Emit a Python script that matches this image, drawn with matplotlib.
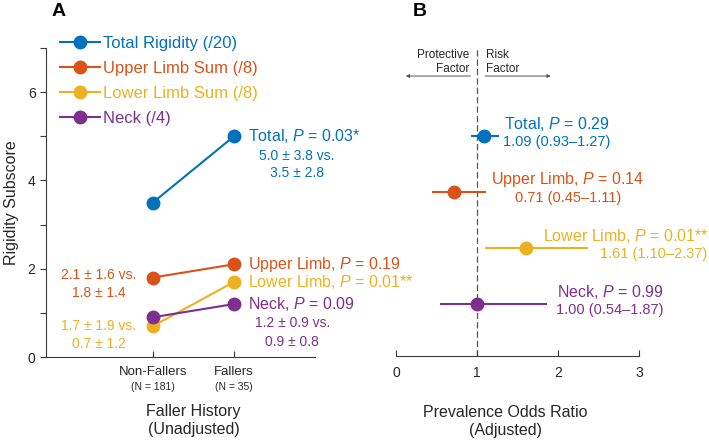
import numpy as np
import matplotlib
matplotlib.use('Agg')
import matplotlib.pyplot as plt

plt.rcParams['font.family'] = ['Liberation Sans', 'DejaVu Sans']
plt.rcParams['mathtext.fontset'] = 'custom'
plt.rcParams['mathtext.rm'] = 'Liberation Sans'
plt.rcParams['mathtext.it'] = 'Liberation Sans:italic'

# panel A data
groups = ['Non-Fallers', 'Fallers']
group_n = ['(N = 181)', '(N = 35)']
series = ['Total Rigidity (/20)', 'Upper Limb Sum (/8)', 'Lower Limb Sum (/8)', 'Neck (/4)']
short = ['Total', 'Upper Limb', 'Lower Limb', 'Neck']
non_fallers = [3.5, 1.8, 0.7, 0.9]
fallers = [5.0, 2.1, 1.7, 1.2]
p_unadj = ['0.03*', '0.19', '0.01**', '0.09']
stats_txt = [('5.0 ± 3.8 vs.', '3.5 ± 2.8'),
             ('2.1 ± 1.6 vs.', '1.8 ± 1.4'),
             ('1.7 ± 1.9 vs.', '0.7 ± 1.2'),
             ('1.2 ± 0.9 vs.', '0.9 ± 0.8')]

# panel B data
odds = [1.09, 0.71, 1.61, 1.00]
ci_lo = [0.93, 0.45, 1.10, 0.54]
ci_hi = [1.27, 1.11, 2.37, 1.87]
p_adj = ['0.29', '0.14', '0.01**', '0.99']

colors = ['#0072BD', '#D95319', '#EDB120', '#7E2F8E']
axcol = '#3a3a3a'

fig = plt.figure(figsize=(7.09, 4.40), dpi=100)
W, H = 709, 440


def px_axes(x0, y0, x1, y1):
    return fig.add_axes([x0 / W, 1 - y1 / H, (x1 - x0) / W, (y1 - y0) / H])


# ---------- panel B (drawn first so panel A text sits on top) ----------
bx = px_axes(396, 48, 639, 356)
bx.patch.set_visible(False)
ypos = [4, 3, 2, 1]
bx.axvline(1, color='#555555', lw=0.9, dashes=(5, 2.5), zorder=0)
for i in range(4):
    bx.errorbar(odds[i], ypos[i], xerr=[[odds[i] - ci_lo[i]], [ci_hi[i] - odds[i]]],
                fmt='o', color=colors[i], ms=9, elinewidth=1.5, capsize=0)

bx.set_xlim(0, 3)
bx.set_ylim(0.07, 5.57)
bx.set_xticks([0, 1, 2, 3])
bx.set_yticks([])
bx.tick_params(axis='x', direction='in', length=4, colors=axcol, labelsize=10,
               labelcolor='#262626', width=0.8, pad=7)
for s in ['top', 'right', 'left']:
    bx.spines[s].set_visible(False)
bx.spines['bottom'].set_color(axcol)
bx.spines['bottom'].set_linewidth(0.8)
bx.text(1.35, -1.1, 'Prevalence Odds Ratio\n(Adjusted)', ha='center', va='center',
        fontsize=11.5, color='#262626', linespacing=1.25)

# direction arrows
bx.annotate('', xy=(0.12, 0.909), xytext=(0.92, 0.909), xycoords=('data', 'axes fraction'),
            arrowprops=dict(arrowstyle='-|>', color='#555555', lw=0.7,
                            mutation_scale=5, shrinkA=0, shrinkB=0))
bx.annotate('', xy=(1.91, 0.909), xytext=(1.10, 0.909), xycoords=('data', 'axes fraction'),
            arrowprops=dict(arrowstyle='-|>', color='#555555', lw=0.7,
                            mutation_scale=5, shrinkA=0, shrinkB=0))
bx.text(0.90, 0.955, 'Protective\nFactor', transform=bx.get_xaxis_transform(),
        ha='right', va='center', multialignment='right', fontsize=8.5, color='#262626')
bx.text(1.11, 0.955, 'Risk\nFactor', transform=bx.get_xaxis_transform(),
        ha='left', va='center', fontsize=8.5, color='#262626')

lab_x = [1.98, 2.12, 3.86, 2.64]
lab_ha = ['center', 'center', 'right', 'center']
for i in range(4):
    bx.text(lab_x[i], ypos[i] + 0.22, f'{short[i]}, $P$ = {p_adj[i]}', color=colors[i],
            fontsize=11.5, ha=lab_ha[i], va='center', clip_on=False)
    bx.text(lab_x[i] if lab_ha[i] == 'center' else 3.84, ypos[i] - 0.11,
            f'{odds[i]:.2f} ({ci_lo[i]:.2f}–{ci_hi[i]:.2f})', color=colors[i],
            fontsize=10.5, ha=lab_ha[i], va='center', clip_on=False)

# ---------- panel A ----------
ax = px_axes(46, 48, 315, 357)
ax.patch.set_visible(False)
xs = [1, 2]
for i in range(4):
    ax.plot(xs, [non_fallers[i], fallers[i]], '-o', color=colors[i], lw=1.5, ms=9,
            label=series[i], clip_on=False)

ax.set_xlim(-0.32, 3)
ax.set_ylim(0, 7)
ax.set_yticks(range(0, 8))
ax.set_yticklabels(['0', '', '2', '', '4', '', '6', ''])
ax.set_xticks(xs)
ax.set_xticklabels([])
for x, g, n in zip(xs, groups, group_n):
    ax.text(x, -0.33, g, ha='center', va='center', fontsize=9.5, color='#262626')
    ax.text(x, -0.67, n, ha='center', va='center', fontsize=7.5, color='#262626')
ax.tick_params(axis='y', direction='out', length=4, colors=axcol, labelsize=10,
               labelcolor='#262626', width=0.8)
ax.tick_params(axis='x', direction='in', length=4, colors=axcol, width=0.8)
for s in ['top', 'right']:
    ax.spines[s].set_visible(False)
for s in ['left', 'bottom']:
    ax.spines[s].set_color(axcol)
    ax.spines[s].set_linewidth(0.8)
ax.text(1.5, -1.43, 'Faller History\n(Unadjusted)', ha='center', va='center',
        fontsize=11.5, color='#262626', linespacing=1.25)
ax.set_ylabel('Rigidity Subscore', fontsize=11.5, color='#262626', labelpad=6)

for i in range(4):
    ax.text(2.17, fallers[i], f'{short[i]}, $P$ = {p_unadj[i]}', color=colors[i],
            fontsize=11.5, ha='left', va='center')
sub_pos = [(2.78, 4.55, 4.17), (0.33, 1.86, 1.45), (0.33, 0.70, 0.29), (2.72, 0.77, 0.34)]
for i, (x, y1, y2) in enumerate(sub_pos):
    ax.text(x, y1, stats_txt[i][0], color=colors[i], fontsize=10, ha='center', va='center')
    ax.text(x, y2, stats_txt[i][1], color=colors[i], fontsize=10, ha='center', va='center')

leg = ax.legend(loc='upper left', bbox_to_anchor=(60 / W, 1 - 36 / H),
                bbox_transform=fig.transFigure, frameon=False, fontsize=12,
                handlelength=2.4, handletextpad=0.2, labelspacing=0.6,
                borderpad=0, borderaxespad=0, labelcolor='linecolor')

fig.text(52 / W, 1 - 11 / H, 'A', fontsize=14, fontweight='bold', va='center')
fig.text(413 / W, 1 - 11 / H, 'B', fontsize=14, fontweight='bold', va='center')

fig.savefig('out.png', dpi=100)
